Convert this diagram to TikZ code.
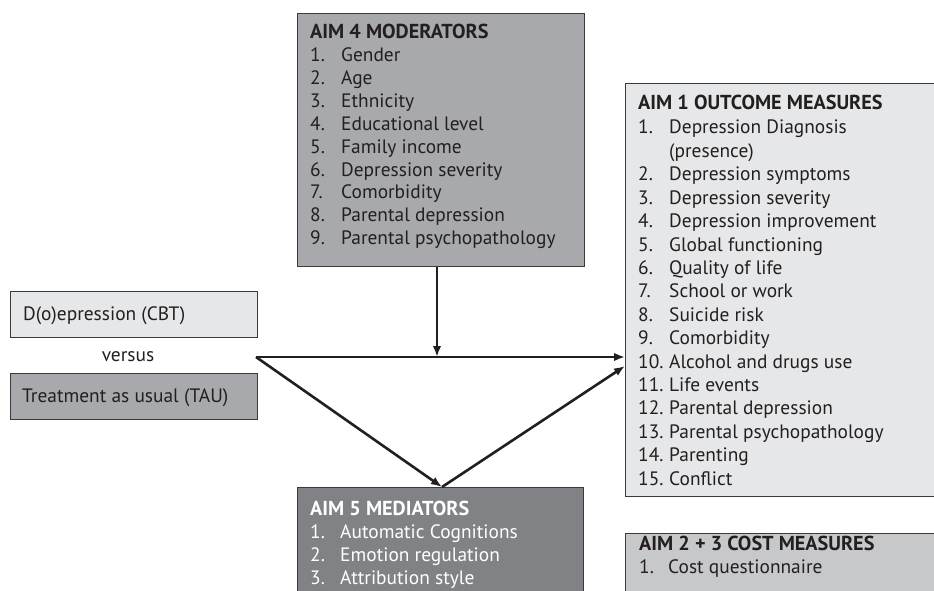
\documentclass[tikz,border=0pt]{standalone}
\usepackage{fontspec}
\setmainfont{PT Sans}
\usetikzlibrary{arrows.meta}
\definecolor{ink}{HTML}{231F20}
\definecolor{lg}{HTML}{E6E7E8}
\definecolor{mg}{HTML}{A7A9AC}
\definecolor{dg}{HTML}{808285}
\definecolor{cg}{HTML}{C7C8CA}
\definecolor{edge}{HTML}{3A3A3A}
\newcommand\fsz{\fontsize{19.4pt}{22pt}\selectfont}
\newcommand\fszb{\fontsize{20.2pt}{22pt}\selectfont\bfseries}
\tikzset{
  box/.style={draw=edge, line width=1.3pt, rectangle, anchor=north west, inner sep=0pt},
  txt/.style={anchor=base west, inner sep=0pt, font=\fsz, text=ink},
  ttl/.style={txt, font=\fszb},
  link/.style={draw=ink, line width=2.6pt},
  arr/.style={link, -{Latex[length=11pt,width=8.5pt]}},
}
\begin{document}
\begin{tikzpicture}[x=1pt,y=-1pt]
\useasboundingbox (0,0) rectangle (934,591);
\clip (0,0) rectangle (934,591);
% boxes
\node[box, fill=mg, minimum width=287pt, minimum height=253pt] (m4) at (297,13) {};
\node[box, fill=lg, minimum width=247pt, minimum height=46pt] (cbt) at (10,291) {};
\node[box, fill=mg, minimum width=247pt, minimum height=46pt] (tau) at (10,373) {};
\node[box, fill=dg, minimum width=286pt, minimum height=130pt] (m5) at (297,487) {};
\node[box, fill=lg, minimum width=340pt, minimum height=413pt] (a1) at (625,83) {};
\node[box, fill=cg, minimum width=340pt, minimum height=100pt] (cost) at (625,533) {};
% AIM 4
\node[ttl] (m4title) at (310,39) {AIM 4 MODERATORS};
\foreach \n/\t [count=\i] in {1./Gender,2./Age,3./Ethnicity,4./Educational level,5./Family income,6./Depression severity,7./Comorbidity,8./Parental depression,9./Parental psychopathology}{
  \node[txt] (m4n\i) at (310,{62+22.8*(\i-1)}) {\n};
  \node[txt] (m4t\i) at (341,{62+22.8*(\i-1)}) {\t};
}
% treatments
\node[txt] (cbtt) at (23,320) {D(o)epression (CBT)};
\node[txt, anchor=base] (vs) at (128,361) {versus};
\node[txt] (taut) at (22,402) {Treatment as usual (TAU)};
% AIM 1
\node[ttl] (a1title) at (638,110) {AIM 1 OUTCOME MEASURES};
\foreach \n/\t [count=\i] in {1./Depression Diagnosis,{}/{(presence)},2./Depression symptoms,3./Depression severity,4./Depression improvement,5./Global functioning,6./Quality of life,7./School or work,8./Suicide risk,9./Comorbidity,10./Alcohol and drugs use,11./Life events,12./Parental depression,13./Parental psychopathology,14./Parenting,15./Conflict}{
  \node[txt] (a1n\i) at (638,{134+23.4*(\i-1)}) {\n};
  \node[txt] (a1t\i) at (669,{134+23.4*(\i-1)}) {\t};
}
% AIM 5
\node[ttl, text=white] (m5title) at (310,515) {AIM 5 MEDIATORS};
\foreach \n/\t [count=\i] in {1./Automatic Cognitions,2./Emotion regulation,3./Attribution style}{
  \node[txt, text=white] (m5n\i) at (310,{538+23.4*(\i-1)}) {\n};
  \node[txt, text=white] (m5t\i) at (340,{538+23.4*(\i-1)}) {\t};
}
% AIM 2+3
\node[ttl] (costtitle) at (639,550) {AIM 2 + 3 COST MEASURES};
\node[txt] (costn1) at (639,573) {1.};
\node[txt] (costt1) at (668,573) {Cost questionnaire};
% connectors
\coordinate (src) at (256,357);
\coordinate (junc) at (437,357);
\coordinate (m5top) at ([xshift=145pt]m5.north west);
\draw[link] (src) -- (junc);
\draw[arr] (junc) -- (a1.west |- src);
\draw[arr] (junc |- m4.south) -- (junc);
\draw[arr] (src) -- (m5top);
\draw[arr] (m5top) -- ([yshift=-9pt]a1.west |- src);
\end{tikzpicture}
\end{document}
